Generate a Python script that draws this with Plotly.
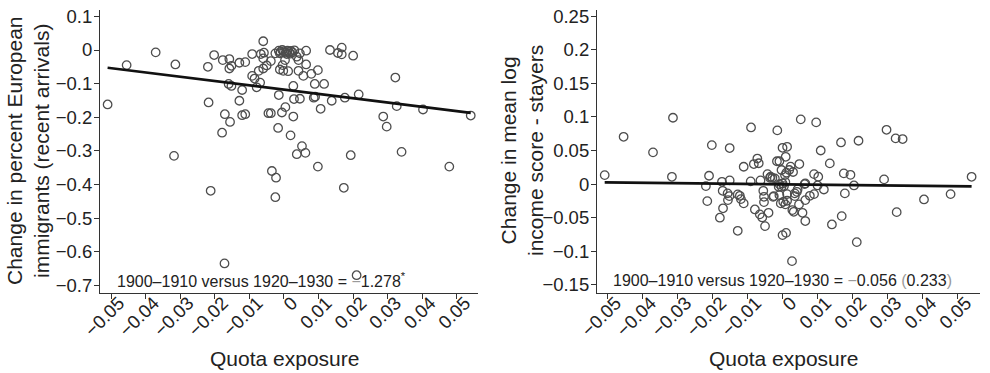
import plotly.graph_objects as go

# ---------------- data ----------------
left_x = [-0.0510, -0.0455, -0.0371, -0.0314, -0.0318, -0.0220, -0.0202, -0.0218, -0.0212, -0.0177,
          -0.0158, -0.0158, -0.0152, -0.0160, -0.0152, -0.0129, -0.0112, -0.0092, -0.0121, -0.0129,
          -0.0171, -0.0156, -0.0179, -0.0121, -0.0112, -0.0092, -0.0085, -0.0079, -0.0069, -0.0073,
          -0.0060, -0.0050, -0.0038, -0.0060, -0.0058, -0.0067, -0.0060, -0.0045, -0.0038, -0.0035,
          -0.0023, -0.0025, -0.0017, -0.0015, -0.0025, -0.0012, -0.0002, 0.0012, 0.0003, -0.0004,
          -0.0006, 0.0004, 0.0027, 0.0019, 0.0027, 0.0029, 0.0046, 0.0052, 0.0037, 0.0062,
          0.0098, 0.0037, 0.0042, 0.0046, 0.0064, 0.0064, 0.0042, 0.0056, 0.0079, 0.0098,
          0.0089, 0.0116, 0.0090, 0.0106, 0.0086, 0.0133, 0.0138, 0.0167, 0.0167, 0.0200,
          0.0176, 0.0216, 0.0322, 0.0326, 0.0287, 0.0297, 0.0402, 0.0540, 0.0193, 0.0340,
          0.0173, 0.0478, 0.0210, -0.0172, 0.0156, -0.0015, -0.0010, -0.0005, 0.0000, 0.0005,
          0.0010, 0.0015, 0.0020, 0.0025, -0.0012, 0.0008, 0.0018, 0.0030]
left_y = [-0.162, -0.045, -0.007, -0.043, -0.315, -0.050, -0.015, -0.156, -0.419, -0.030,
          -0.027, -0.055, -0.047, -0.101, -0.107, -0.038, -0.036, -0.012, -0.119, -0.151,
          -0.191, -0.214, -0.246, -0.194, -0.191, -0.077, -0.085, -0.111, -0.097, -0.062,
          -0.055, -0.046, -0.033, 0.026, -0.008, -0.012, -0.025, -0.188, -0.188, -0.360,
          -0.380, -0.438, -0.232, -0.134, -0.010, -0.058, -0.062, -0.063, -0.030, -0.045,
          -0.186, -0.170, -0.198, -0.254, -0.107, -0.146, -0.145, -0.286, -0.310, -0.306,
          -0.347, -0.020, -0.030, -0.010, -0.002, -0.043, -0.062, -0.077, -0.071, -0.060,
          -0.101, -0.101, -0.139, -0.175, -0.142, 0.000, -0.151, 0.007, -0.013, -0.017,
          -0.142, -0.132, -0.082, -0.167, -0.198, -0.228, -0.177, -0.195, -0.313, -0.303,
          -0.410, -0.347, -0.670, -0.635, -0.009, -0.002, -0.006, 0.000, -0.004, -0.008,
          -0.002, -0.006, -0.003, -0.007, -0.010, -0.012, -0.011, -0.001]

right_x = [-0.0509, -0.0455, -0.0371, -0.0314, -0.0317, -0.0211, -0.0203, -0.0152, -0.0091, -0.0016,
           0.0051, 0.0095, 0.0108, 0.0134, 0.0166, 0.0216, 0.0296, 0.0322, 0.0342, 0.0289,
           0.0174, 0.0193, 0.0203, 0.0177, 0.0539, 0.0479, 0.0403, -0.0001, 0.0012, 0.0008,
           -0.0017, -0.0010, -0.0073, -0.0083, -0.0069, -0.0112, 0.0047, 0.0022, 0.0018, 0.0029,
           -0.0004, 0.0006, -0.0044, -0.0035, -0.0023, 0.0089, 0.0101, -0.0174, -0.0152, -0.0092,
           -0.0064, 0.0064, -0.0220, -0.0001, 0.0003, 0.0099, 0.0117, -0.0216, -0.0172, -0.0158,
           -0.0153, -0.0157, -0.0171, -0.0180, -0.0129, -0.0123, -0.0120, -0.0112, -0.0129, -0.0080,
           -0.0066, -0.0059, -0.0041, -0.0051, -0.0056, -0.0054, -0.0054, -0.0026, -0.0012, -0.0010,
           -0.0006, 0.0001, 0.0007, 0.0012, -0.0004, 0.0012, -0.0001, 0.0009, 0.0027, 0.0031,
           0.0026, 0.0034, 0.0040, 0.0042, 0.0034, 0.0046, 0.0056, 0.0064, 0.0064, 0.0077,
           0.0089, 0.0062, 0.0140, 0.0168, 0.0211, 0.0325, -0.0028, -0.0037, -0.0030, 0.0010,
           0.0007, -0.0010]
right_y = [0.0134, 0.0704, 0.0472, 0.0987, 0.0109, 0.0124, 0.0580, 0.0536, 0.0843, 0.0799,
           0.0963, 0.0918, 0.0500, 0.0308, 0.0620, 0.0645, 0.0808, 0.0680, 0.0670, 0.0070,
           0.0159, 0.0138, -0.0020, -0.0138, 0.0109, -0.0149, -0.0228, 0.0540, 0.0555, 0.0406,
           0.0340, 0.0340, 0.0380, 0.0298, 0.0310, 0.0258, 0.0298, 0.0260, 0.0210, 0.0180,
           0.0210, 0.0134, 0.0149, 0.0110, 0.0085, 0.0149, 0.0110, 0.0034, 0.0055, 0.0040,
           0.0055, 0.0010, -0.0030, 0.0010, -0.0030, -0.0020, -0.0080, -0.0253, -0.0100, -0.0138,
           -0.0179, -0.0238, -0.0360, -0.0500, -0.0153, -0.0174, -0.0223, -0.0287, -0.0695, -0.0377,
           -0.0450, -0.0496, -0.0427, -0.0625, -0.0100, -0.0189, -0.0268, -0.0179, -0.0040, -0.0164,
           -0.0287, -0.0263, -0.0302, -0.0248, -0.0040, -0.0149, -0.0759, -0.0725, -0.0387, -0.0412,
           -0.1146, -0.0138, -0.0115, -0.0079, -0.0179, -0.0302, -0.0427, -0.0550, -0.0238, -0.0174,
           -0.0149, 0.0000, -0.0600, -0.0476, -0.0863, -0.0417, -0.0190, 0.0094, 0.0094, 0.0170,
           0.0030, 0.0000]

# fitted lines (intercept, slope)
left_fit = (-0.118, -1.278)
right_fit = (-0.0003, -0.056)

x_tick_vals = [-0.05, -0.04, -0.03, -0.02, -0.01, 0, 0.01, 0.02, 0.03, 0.04, 0.05]
x_tick_text = ["−0.05", "−0.04", "−0.03", "−0.02", "−0.01", "0", "0.01", "0.02", "0.03", "0.04", "0.05"]
left_y_tick_vals = [0.1, 0, -0.1, -0.2, -0.3, -0.4, -0.5, -0.6, -0.7]
left_y_tick_text = ["0.1", "0", "−0.1", "−0.2", "−0.3", "−0.4", "−0.5", "−0.6", "−0.7"]
right_y_tick_vals = [0.25, 0.2, 0.15, 0.1, 0.05, 0, -0.05, -0.1, -0.15]
right_y_tick_text = ["0.25", "0.2", "0.15", "0.1", "0.05", "0", "−0.05", "−0.1", "−0.15"]

left_title = "Change in percent European<br>immigrants (recent arrivals)"
right_title = "Change in mean log<br>income score - stayers"
x_title = "Quota exposure"
left_note = "1900–1910 versus 1920–1930 = <span style='color:#9a9a9a'>−</span>1.278<sup>*</sup>"
right_note = ("1900–1910 versus 1920–1930 = <span style='color:#9a9a9a'>−</span>0.056 "
              "<span style='color:#9a9a9a'>(</span>0.233<span style='color:#9a9a9a'>)</span>")

# ---------------- figure ----------------
FONT = "Liberation Sans, Arial, Helvetica, sans-serif"
W, H = 990, 373
marker = dict(symbol="circle-open", size=8.5, color="#4d4d4d", line=dict(width=1.3, color="#4d4d4d"))

fig = go.Figure()


def add_panel(xs, ys, fit, xa, ya):
    fig.add_trace(go.Scatter(x=xs, y=ys, mode="markers", marker=marker, xaxis=xa, yaxis=ya,
                             showlegend=False, hoverinfo="skip"))
    x0, x1 = min(xs), max(xs)
    fig.add_trace(go.Scatter(x=[x0, x1], y=[fit[0] + fit[1] * x0, fit[0] + fit[1] * x1],
                             mode="lines", line=dict(color="#111111", width=2.6),
                             xaxis=xa, yaxis=ya, showlegend=False, hoverinfo="skip"))


add_panel(left_x, left_y, left_fit, "x", "y")
add_panel(right_x, right_y, right_fit, "x2", "y2")

ydom = [(H - 293) / H, (H - 10) / H]
axis_common = dict(showgrid=False, zeroline=False, showline=True, linecolor="#333333", linewidth=1.2,
                   ticks="outside", ticklen=5, tickwidth=1.2, tickcolor="#333333", automargin=False,
                   tickfont=dict(family=FONT, size=18.5, color="#222222"))
x_extra = dict(tickangle=-45, ticklabelstandoff=-14, ticklabelshift=8)
y_extra = dict(ticklabelstandoff=-2)

fig.update_layout(
    template="none",
    width=W, height=H, margin=dict(l=0, r=0, t=0, b=0, pad=0, autoexpand=False),
    paper_bgcolor="white", plot_bgcolor="white",
    font=dict(family=FONT, color="#222222"),
    xaxis=dict(domain=[100 / W, 478 / W], range=[-0.0532, 0.0561], anchor="y",
               tickvals=x_tick_vals, ticktext=x_tick_text, **x_extra, **axis_common),
    yaxis=dict(domain=ydom, range=[-0.723, 0.119], anchor="x",
               tickvals=left_y_tick_vals, ticktext=left_y_tick_text, **y_extra, **axis_common),
    xaxis2=dict(domain=[597 / W, 980 / W], range=[-0.0531, 0.0563], anchor="y2",
                tickvals=x_tick_vals, ticktext=x_tick_text, **x_extra, **axis_common),
    yaxis2=dict(domain=ydom, range=[-0.162, 0.259], anchor="x2",
                tickvals=right_y_tick_vals, ticktext=right_y_tick_text, **y_extra, **axis_common),
)

ann = []
ann.append(dict(text=left_title, xref="paper", yref="paper", x=28 / W, y=(H - 151) / H, textangle=-90,
                xanchor="center", yanchor="middle", showarrow=False,
                font=dict(family=FONT, size=21, color="#222222")))
ann.append(dict(text=right_title, xref="paper", yref="paper", x=522 / W, y=(H - 151) / H, textangle=-90,
                xanchor="center", yanchor="middle", showarrow=False,
                font=dict(family=FONT, size=21, color="#222222")))
for cx in (284, 783):
    ann.append(dict(text=x_title, xref="paper", yref="paper", x=cx / W, y=(H - 358) / H,
                    xanchor="center", yanchor="middle", showarrow=False,
                    font=dict(family=FONT, size=21, color="#222222")))
ann.append(dict(text=left_note, xref="paper", yref="paper", x=115 / W, y=(H - 280) / H,
                xanchor="left", yanchor="middle", showarrow=False,
                font=dict(family=FONT, size=16, color="#222222")))
ann.append(dict(text=right_note, xref="paper", yref="paper", x=611 / W, y=(H - 280) / H,
                xanchor="left", yanchor="middle", showarrow=False,
                font=dict(family=FONT, size=16, color="#222222")))
fig.update_layout(annotations=ann)

fig.write_html("out.html", config={"displayModeBar": False},
               post_script="document.body.style.margin='0';document.body.style.padding='0';")
